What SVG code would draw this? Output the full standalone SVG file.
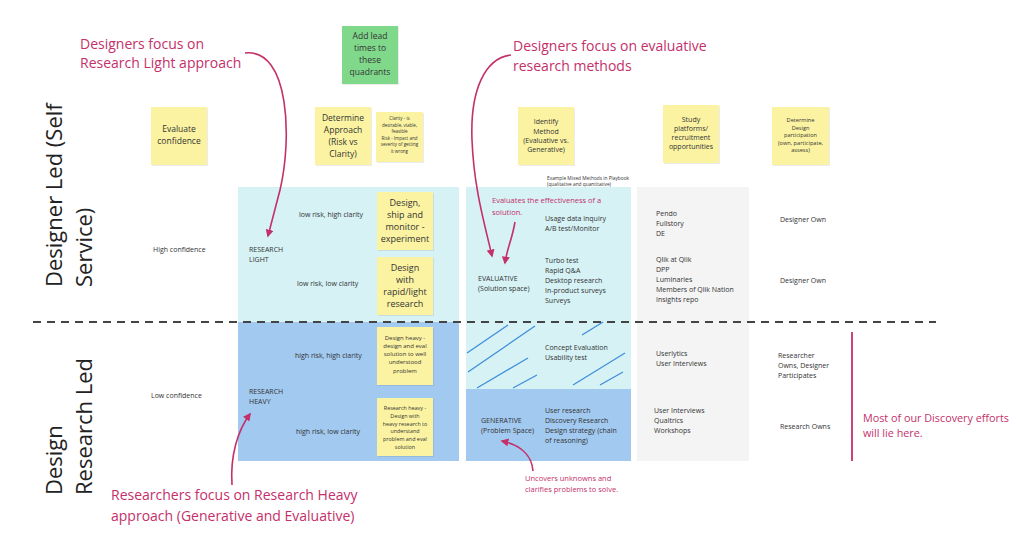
<svg xmlns="http://www.w3.org/2000/svg" width="1024" height="553" viewBox="0 0 1024 553">
<defs>
<style>
text{font-family:"Open Sans","Noto Sans","Liberation Sans",sans-serif;fill:#333;}
.big{font-size:22px;fill:#222;}
.ann{font-size:14px;fill:#c4306a;}
.annS{font-size:7.5px;fill:#c4306a;}
.sm{font-size:7px;}
.md{font-size:7px;}
.tiny{font-size:4.8px;}
.note{fill:#fbf3a2;}
.shadow{fill:#000;opacity:0.08;}
.nt{text-anchor:middle;fill:#333;}
.curve{fill:none;stroke:#c4306a;stroke-width:1.6;}
.hatch{stroke:#3f8ddb;stroke-width:1.3;}
</style>
<marker id="ah" viewBox="0 0 10 10" refX="8" refY="5" markerWidth="5" markerHeight="5" orient="auto-start-reverse">
<path d="M0,0 L10,5 L0,10 z" fill="#c4306a"/>
</marker>
</defs>
<rect width="1024" height="553" fill="#fff"/>

<g id="regions">
<rect x="238" y="187" width="221" height="135" fill="#d6f2f5"/>
<rect x="238" y="322" width="221" height="139" fill="#a2c9f0"/>
<rect x="466" y="187" width="165" height="202" fill="#d6f2f5"/>
<rect x="466" y="389" width="165" height="72" fill="#a2c9f0"/>
<rect x="637" y="187" width="112" height="274" fill="#f4f4f4"/>
</g>

<g id="hatching">
<line class="hatch" x1="467" y1="353" x2="508" y2="325"/>
<line class="hatch" x1="468" y1="372" x2="535" y2="326"/>
<line class="hatch" x1="477" y1="388" x2="528" y2="358"/>
<line class="hatch" x1="513" y1="388" x2="537" y2="375"/>
<line class="hatch" x1="573" y1="385" x2="625" y2="353"/>
<line class="hatch" x1="600" y1="385" x2="623" y2="372"/>
<line class="hatch" x1="582" y1="335" x2="603" y2="322"/>
</g>

<g id="divider">
<line x1="33" y1="322" x2="936" y2="322" stroke="#444" stroke-width="2" stroke-dasharray="8,6"/>
</g>

<g id="row-labels">
<text class="big" transform="translate(62,287) rotate(-90)">Designer Led (Self</text>
<text class="big" transform="translate(92,287) rotate(-90)">Service)</text>
<text class="big" transform="translate(62,495) rotate(-90)">Design</text>
<text class="big" transform="translate(92,495) rotate(-90)">Research Led</text>
</g>

<g id="n-evaluate">
<rect class="shadow" x="152" y="108" width="56" height="58"/>
<rect class="note" x="151" y="107" width="56" height="58"/>
<text class="nt" font-size="8.5" x="179" y="132">Evaluate</text>
<text class="nt" font-size="8.5" x="179" y="144">confidence</text>
</g>

<g id="n-leadtimes">
<rect class="shadow" x="343" y="27" width="56" height="58"/>
<rect x="342" y="26" width="56" height="58" fill="#80d98b"/>
<text class="nt" font-size="8.5" x="370" y="39">Add lead</text>
<text class="nt" font-size="8.5" x="370" y="51">times to</text>
<text class="nt" font-size="8.5" x="370" y="63">these</text>
<text class="nt" font-size="8.5" x="370" y="75">quadrants</text>
</g>

<g id="n-approach">
<rect class="shadow" x="316" y="108" width="56" height="58"/>
<rect class="note" x="315" y="107" width="56" height="58"/>
<text class="nt" font-size="8.5" x="343" y="121">Determine</text>
<text class="nt" font-size="8.5" x="343" y="133">Approach</text>
<text class="nt" font-size="8.5" x="343" y="145">(Risk vs</text>
<text class="nt" font-size="8.5" x="343" y="157">Clarity)</text>
</g>

<g id="n-clarity">
<rect class="shadow" x="377" y="113" width="47" height="50"/>
<rect class="note" x="376" y="112" width="47" height="50"/>
<text class="nt" font-size="4.5" x="399.5" y="120">Clarity - is</text>
<text class="nt" font-size="4.5" x="399.5" y="126.5">desirable, viable,</text>
<text class="nt" font-size="4.5" x="399.5" y="133">feasible</text>
<text class="nt" font-size="4.5" x="399.5" y="139.5">Risk - Impact and</text>
<text class="nt" font-size="4.5" x="399.5" y="146">severity of getting</text>
<text class="nt" font-size="4.5" x="399.5" y="152.5">it wrong</text>
</g>

<g id="n-method">
<rect class="shadow" x="519" y="108" width="56" height="58"/>
<rect class="note" x="518" y="107" width="56" height="58"/>
<text class="nt" font-size="7" x="546" y="124">Identify</text>
<text class="nt" font-size="7" x="546" y="134">Method</text>
<text class="nt" font-size="7" x="546" y="143">(Evaluative vs.</text>
<text class="nt" font-size="7" x="546" y="152">Generative)</text>
</g>

<g id="n-platforms">
<rect class="shadow" x="664" y="106" width="56" height="58"/>
<rect class="note" x="663" y="105" width="56" height="58"/>
<text class="nt" font-size="7" x="691" y="122">Study</text>
<text class="nt" font-size="7" x="691" y="131">platforms/</text>
<text class="nt" font-size="7" x="691" y="140">recruitment</text>
<text class="nt" font-size="7" x="691" y="149">opportunities</text>
</g>

<g id="n-participation">
<rect class="shadow" x="773" y="108" width="57" height="58"/>
<rect class="note" x="772" y="107" width="57" height="58"/>
<text class="nt" font-size="5.6" x="800.5" y="122">Determine</text>
<text class="nt" font-size="5.6" x="800.5" y="129.5">Design</text>
<text class="nt" font-size="5.6" x="800.5" y="137">participation</text>
<text class="nt" font-size="5.6" x="800.5" y="144.5">(own, participate,</text>
<text class="nt" font-size="5.6" x="800.5" y="152">assess)</text>
</g>

<g id="n-ship">
<rect class="shadow" x="378" y="193" width="56" height="58"/>
<rect class="note" x="377" y="192" width="56" height="58"/>
<text class="nt" font-size="9" x="405" y="206">Design,</text>
<text class="nt" font-size="9" x="405" y="218">ship and</text>
<text class="nt" font-size="9" x="405" y="230">monitor -</text>
<text class="nt" font-size="9" x="405" y="242">experiment</text>
</g>

<g id="n-rapid">
<rect class="shadow" x="378" y="258" width="56" height="58"/>
<rect class="note" x="377" y="257" width="56" height="58"/>
<text class="nt" font-size="9" x="405" y="271">Design</text>
<text class="nt" font-size="9" x="405" y="283">with</text>
<text class="nt" font-size="9" x="405" y="295">rapid/light</text>
<text class="nt" font-size="9" x="405" y="307">research</text>
</g>

<g id="n-designheavy">
<rect class="shadow" x="378" y="328" width="56" height="58"/>
<rect class="note" x="377" y="327" width="56" height="58"/>
<text class="nt" font-size="6" x="405" y="340">Design heavy -</text>
<text class="nt" font-size="6" x="405" y="348">design and eval</text>
<text class="nt" font-size="6" x="405" y="356">solution to well</text>
<text class="nt" font-size="6" x="405" y="364">understood</text>
<text class="nt" font-size="6" x="405" y="373">problem</text>
</g>

<g id="n-researchheavy">
<rect class="shadow" x="378" y="399" width="56" height="58"/>
<rect class="note" x="377" y="398" width="56" height="58"/>
<text class="nt" font-size="5.4" x="405" y="410">Research heavy -</text>
<text class="nt" font-size="5.4" x="405" y="418">Design with</text>
<text class="nt" font-size="5.4" x="405" y="425.5">heavy research to</text>
<text class="nt" font-size="5.4" x="405" y="433">understand</text>
<text class="nt" font-size="5.4" x="405" y="441">problem and eval</text>
<text class="nt" font-size="5.4" x="405" y="449">solution</text>
</g>

<g id="labels">
<text class="sm" x="153" y="252">High confidence</text>
<text class="sm" x="151" y="398">Low confidence</text>
<text class="sm" x="249" y="252">RESEARCH</text>
<text class="sm" x="249" y="262">LIGHT</text>
<text class="sm" x="299" y="217">low risk, high clarity</text>
<text class="sm" x="297" y="286">low risk, low clarity</text>
<text class="sm" x="249" y="394">RESEARCH</text>
<text class="sm" x="249" y="404">HEAVY</text>
<text class="sm" x="295" y="358">high risk, high clarity</text>
<text class="sm" x="296" y="434">high risk, low clarity</text>

<text class="tiny" x="547" y="180">Example Mixed Methods in Playbook</text>
<text class="tiny" x="547" y="186">(qualitative and quantitative)</text>

<text class="md" x="545" y="221">Usage data inquiry</text>
<text class="md" x="545" y="231">A/B test/Monitor</text>
<text class="md" x="478" y="281">EVALUATIVE</text>
<text class="md" x="478" y="291">(Solution space)</text>
<text class="md" x="545" y="263">Turbo test</text>
<text class="md" x="545" y="273">Rapid Q&amp;A</text>
<text class="md" x="545" y="283">Desktop research</text>
<text class="md" x="545" y="293">In-product surveys</text>
<text class="md" x="545" y="303">Surveys</text>

<text class="md" x="545" y="350">Concept Evaluation</text>
<text class="md" x="545" y="360">Usability test</text>
<text class="md" x="481" y="423">GENERATIVE</text>
<text class="md" x="481" y="433">(Problem Space)</text>
<text class="md" x="545" y="413">User research</text>
<text class="md" x="545" y="423">Discovery Research</text>
<text class="md" x="545" y="433">Design strategy (chain</text>
<text class="md" x="545" y="443">of reasoning)</text>

<text class="md" x="656" y="216">Pendo</text>
<text class="md" x="656" y="226">Fullstory</text>
<text class="md" x="656" y="236">DE</text>
<text class="md" x="656" y="262">Qlik at Qlik</text>
<text class="md" x="656" y="272">DPP</text>
<text class="md" x="656" y="282">Luminaries</text>
<text class="md" x="656" y="292">Members of Qlik Nation</text>
<text class="md" x="656" y="302">Insights repo</text>
<text class="md" x="656" y="356">Userlytics</text>
<text class="md" x="656" y="366">User Interviews</text>
<text class="md" x="654" y="413">User Interviews</text>
<text class="md" x="654" y="423">Qualtrics</text>
<text class="md" x="654" y="433">Workshops</text>

<text class="sm" x="780" y="222">Designer Own</text>
<text class="sm" x="780" y="283">Designer Own</text>
<text class="sm" x="778" y="358">Researcher</text>
<text class="sm" x="778" y="368">Owns, Designer</text>
<text class="sm" x="778" y="378">Participates</text>
<text class="sm" x="780" y="429">Research Owns</text>
</g>

<g id="annotations">
<text class="ann" x="80" y="49">Designers focus on</text>
<text class="ann" x="80" y="68">Research Light approach</text>
<text class="ann" x="513" y="51">Designers focus on evaluative</text>
<text class="ann" x="513" y="71">research methods</text>
<text class="annS" x="492" y="203">Evaluates the effectiveness of a</text>
<text class="annS" x="492" y="215">solution.</text>
<text class="annS" x="525" y="481">Uncovers unknowns and</text>
<text class="annS" x="525" y="492">clarifies problems to solve.</text>
<text class="ann" style="font-size:10.8px" x="863" y="422">Most of our Discovery efforts</text>
<text class="ann" style="font-size:10.8px" x="863" y="437">will lie here.</text>
<text class="ann" x="111" y="500">Researchers focus on Research Heavy</text>
<text class="ann" x="111" y="521">approach (Generative and Evaluative)</text>
</g>

<g id="connectors">
<path class="curve" d="M245,53 C290,48 292,140 280,190 L268,236" marker-end="url(#ah)"/>
<path class="curve" d="M511,55 C485,58 470,90 472,140 C474,190 485,225 492,256" marker-end="url(#ah)"/>
<path class="curve" d="M515,222 C512,240 507,248 505,263" marker-end="url(#ah)"/>
<path class="curve" d="M533,471 C532,455 520,445 502,441" marker-end="url(#ah)"/>
<path class="curve" d="M232,485 C230,455 238,430 250,414" marker-end="url(#ah)"/>
<line x1="852" y1="332" x2="852" y2="461" stroke="#c4306a" stroke-width="1.8"/>
</g>
</svg>
